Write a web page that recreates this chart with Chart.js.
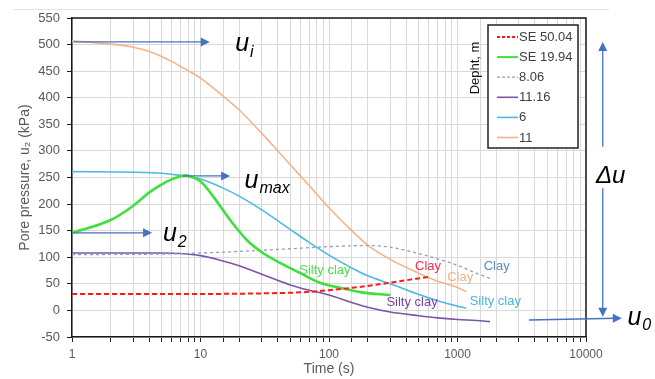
<!DOCTYPE html>
<html><head><meta charset="utf-8">
<script src="https://cdn.jsdelivr.net/npm/chart.js@4.4.0/dist/chart.umd.min.js"></script>
<style>html,body{margin:0;padding:0;background:#fff;}#wrap{width:655px;height:379px;}</style>
</head><body><div id="wrap"><canvas id="c" width="655" height="379"></canvas></div>
<script>
// ---- data (time in s, pore pressure in kPa) ----
const seriesNames = ['SE 50.04', 'SE 19.94', '8.06', '11.16', '6', '11'];
const xLabelTicks = [1, 10, 100, 1000, 10000];
const yRange = [-50, 550];
const yStep = 50;

const t_SE5004 = [1, 10, 30, 60, 100, 184, 336, 590];
const u_SE5004 = [31, 31, 32, 34, 38, 45, 54, 63];

const t_SE1994 = [1, 2, 3, 4, 5, 6, 7, 7.6, 8.5, 10, 12.5, 17, 23, 31, 42, 60, 85, 120, 180, 300];
const u_SE1994 = [146, 170, 197, 222, 237, 247, 252, 254, 251, 243, 215, 170, 132, 107, 89, 70, 52, 43, 34, 29];

const t_806 = [1, 5, 10, 20, 50, 100, 200, 300, 500, 700, 1000, 1400, 1800];
const u_806 = [105, 106, 108, 111, 116, 120, 122, 119, 107, 97, 85, 70, 60];

const t_1116 = [1, 3, 5, 7, 10, 14, 20, 30, 50, 70, 100, 150, 200, 300, 500, 700, 1000, 1400, 1790];
const u_1116 = [108, 108, 108, 107, 103, 95, 84, 68, 48, 38, 29, 15, 6, -3, -10, -14, -17, -19, -21];

const t_6 = [1, 3, 5, 7, 10, 15, 20, 30, 50, 70, 100, 150, 200, 300, 500, 700, 1000, 1170];
const u_6 = [261, 260, 258, 254, 247, 230, 215, 189, 152, 128, 104, 80, 65, 50, 30, 18, 8, 4];

const t_11 = [1, 2, 3, 4, 6, 8, 10, 15, 20, 30, 40, 50, 70, 100, 150, 200, 300, 500, 700, 1000, 1170];
const u_11 = [507, 501, 495, 487, 468, 451, 437, 403, 377, 333, 300, 274, 235, 193, 150, 123, 96, 70, 55, 43, 35];

// soil-type labels: [text, time, pressure, colour]
const soilLabels = [
  ['Clay', 590, 83, '#f0304c'],
  ['Clay', 1050, 62, '#f4b183'],
  ['Clay', 2020, 83, '#5b8bc5'],
  ['Silty clay', 93, 75, '#4ee04e'],
  ['Silty clay', 443, 15, '#7a3fa8'],
  ['Silty clay', 1970, 17, '#4bb4e2']
];

const pts = (t, u) => t.map((v, i) => ({x: v, y: u[i]}));

const styles = [
  {c: '#ff1a1a', w: 2, d: [5, 3]},
  {c: '#3ee03e', w: 2.6, d: []},
  {c: '#8a9fbf', w: 1.3, d: [3, 3]},
  {c: '#7d55a6', w: 1.6, d: []},
  {c: '#4db8e6', w: 1.6, d: []},
  {c: '#f4b48a', w: 1.6, d: []}
];
const series = [[t_SE5004, u_SE5004], [t_SE1994, u_SE1994], [t_806, u_806], [t_1116, u_1116], [t_6, u_6], [t_11, u_11]];

const datasets = series.map((s, i) => ({
  label: seriesNames[i],
  data: pts(s[0], s[1]),
  borderColor: styles[i].c,
  borderWidth: styles[i].w,
  borderDash: styles[i].d,
  pointRadius: 0,
  fill: false,
  cubicInterpolationMode: 'monotone'
}));

function arrowHead(ctx, x1, y1, x2, y2, len, half) {
  const a = Math.atan2(y2 - y1, x2 - x1);
  ctx.beginPath();
  ctx.moveTo(x2, y2);
  ctx.lineTo(x2 - len * Math.cos(a) + half * Math.sin(a), y2 - len * Math.sin(a) - half * Math.cos(a));
  ctx.lineTo(x2 - len * Math.cos(a) - half * Math.sin(a), y2 - len * Math.sin(a) + half * Math.cos(a));
  ctx.closePath();
  ctx.fill();
}
function arrow(ctx, x1, y1, x2, y2) {
  const a = Math.atan2(y2 - y1, x2 - x1);
  ctx.beginPath();
  ctx.moveTo(x1, y1);
  ctx.lineTo(x2 - 6 * Math.cos(a), y2 - 6 * Math.sin(a));
  ctx.stroke();
  arrowHead(ctx, x1, y1, x2, y2, 9, 4.5);
}
function symbol(ctx, x, y, main, sub, size) {
  ctx.font = 'italic ' + size + 'px "Liberation Sans", Arial, sans-serif';
  ctx.textAlign = 'left';
  ctx.textBaseline = 'alphabetic';
  ctx.fillStyle = '#000';
  ctx.fillText(main, x, y);
  const w = ctx.measureText(main).width;
  ctx.font = 'italic ' + Math.round(size * 0.62) + 'px "Liberation Sans", Arial, sans-serif';
  ctx.fillText(sub, x + w + 1, y + size * 0.22);
}

const overlay = {
  id: 'overlay',
  afterDraw(chart) {
    const {ctx, chartArea: a, scales: {x, y}} = chart;
    const X = v => x.getPixelForValue(v), Y = v => y.getPixelForValue(v);
    ctx.save();
    // outer faint frame line
    ctx.strokeStyle = '#e4e4e4'; ctx.lineWidth = 1;
    ctx.beginPath(); ctx.moveTo(13, 9.5); ctx.lineTo(609, 9.5); ctx.stroke();
    // plot border top/right
    ctx.strokeStyle = '#1a1a1a'; ctx.lineWidth = 1.5;
    ctx.beginPath(); ctx.moveTo(a.left, a.top); ctx.lineTo(a.right, a.top); ctx.lineTo(a.right, a.bottom); ctx.stroke();

    // legend box
    const lx = a.right - 98, ly = a.top + 7, lw = 90, lh = 123;
    ctx.fillStyle = '#fff'; ctx.fillRect(lx, ly, lw, lh);
    ctx.strokeStyle = '#222'; ctx.lineWidth = 1.5; ctx.strokeRect(lx, ly, lw, lh);
    ctx.font = '13px "Liberation Sans", Arial, sans-serif';
    ctx.textBaseline = 'middle'; ctx.textAlign = 'left';
    chart.data.datasets.forEach((ds, i) => {
      const ry = ly + 12 + i * 20.1;
      ctx.strokeStyle = ds.borderColor; ctx.lineWidth = Math.min(ds.borderWidth, 2);
      ctx.setLineDash(ds.borderDash.length ? [3, 2] : []);
      ctx.beginPath(); ctx.moveTo(lx + 9, ry); ctx.lineTo(lx + 30, ry); ctx.stroke();
      ctx.setLineDash([]);
      ctx.fillStyle = '#404040';
      ctx.fillText(ds.label, lx + 31, ry + 0.5);
    });
    // legend title rotated
    ctx.save();
    ctx.translate(lx - 13, ly + 43);
    ctx.rotate(-Math.PI / 2);
    ctx.fillStyle = '#111'; ctx.textAlign = 'center'; ctx.textBaseline = 'middle';
    ctx.font = '13px "Liberation Sans", Arial, sans-serif';
    ctx.fillText('Depht, m', 0, 0);
    ctx.restore();

    // soil labels
    ctx.font = '13px "Liberation Sans", Arial, sans-serif';
    ctx.textAlign = 'center'; ctx.textBaseline = 'middle';
    soilLabels.forEach(l => { ctx.fillStyle = l[3]; ctx.fillText(l[0], X(l[1]), Y(l[2])); });

    // annotation arrows
    ctx.strokeStyle = '#4472c4'; ctx.fillStyle = '#4472c4'; ctx.lineWidth = 1.3;
    arrow(ctx, X(1.03), Y(505), X(11.8), Y(505));          // u_i
    arrow(ctx, X(7.3), Y(253), X(17), Y(253));             // u_max
    arrow(ctx, X(1.0), Y(146), X(4.2), Y(146));            // u_2
    // delta u double arrow
    const dx = X(13500);
    arrow(ctx, dx, Y(308), dx, Y(505));
    arrow(ctx, dx, Y(230), dx, Y(-12));
    // u_0
    arrow(ctx, X(3600), Y(-18), X(19000), Y(-14.5));

    symbol(ctx, X(18.6), Y(487), 'u', 'i', 25);
    symbol(ctx, X(22), Y(231), 'u', 'max', 25);
    symbol(ctx, X(5.1), Y(130), 'u', '2', 25);
    symbol(ctx, X(21000), Y(-27), 'u', '0', 25);
    ctx.font = 'italic 24px "Liberation Sans", Arial, sans-serif';
    ctx.fillStyle = '#000'; ctx.textAlign = 'center'; ctx.textBaseline = 'alphabetic';
    ctx.fillText('\u0394u', dx + 8, Y(240));
    ctx.restore();
  }
};

new Chart(document.getElementById('c'), {
  type: 'line',
  data: {datasets},
  options: {
    responsive: false,
    animation: false,
    devicePixelRatio: 1,
    parsing: true,
    layout: {padding: {left: 0, right: 69, top: 18, bottom: 0}},
    plugins: {legend: {display: false}, tooltip: {enabled: false}},
    scales: {
      x: {
        type: 'logarithmic',
        min: 1, max: 10000,
        afterFit: s => { s.height = 42; },
        grid: {color: '#d9d9d9', lineWidth: 1, tickColor: '#222', tickLength: 5, drawTicks: true},
        border: {display: true, color: '#1a1a1a', width: 1.5},
        ticks: {
          autoSkip: false, maxRotation: 0, padding: 5,
          color: '#595959', font: {family: '"Liberation Sans", Arial, sans-serif', size: 12},
          callback: v => xLabelTicks.includes(v) ? String(v) : ''
        },
        title: {display: true, text: 'Time (s)', color: '#595959', font: {family: '"Liberation Sans", Arial, sans-serif', size: 14}, padding: {top: 0, bottom: 1}}
      },
      y: {
        min: yRange[0], max: yRange[1],
        afterFit: s => { s.width = 72; },
        grid: {color: '#d9d9d9', lineWidth: 1, tickColor: '#222', tickLength: 5},
        border: {display: true, color: '#1a1a1a', width: 1.5},
        ticks: {stepSize: yStep, padding: 7, color: '#595959', font: {family: '"Liberation Sans", Arial, sans-serif', size: 13}},
        title: {display: true, text: 'Pore pressure, u\u2082 (kPa)', color: '#595959', font: {family: '"Liberation Sans", Arial, sans-serif', size: 14}, padding: {top: 17, bottom: 0}}
      }
    }
  },
  plugins: [overlay]
});
</script>
</body></html>
